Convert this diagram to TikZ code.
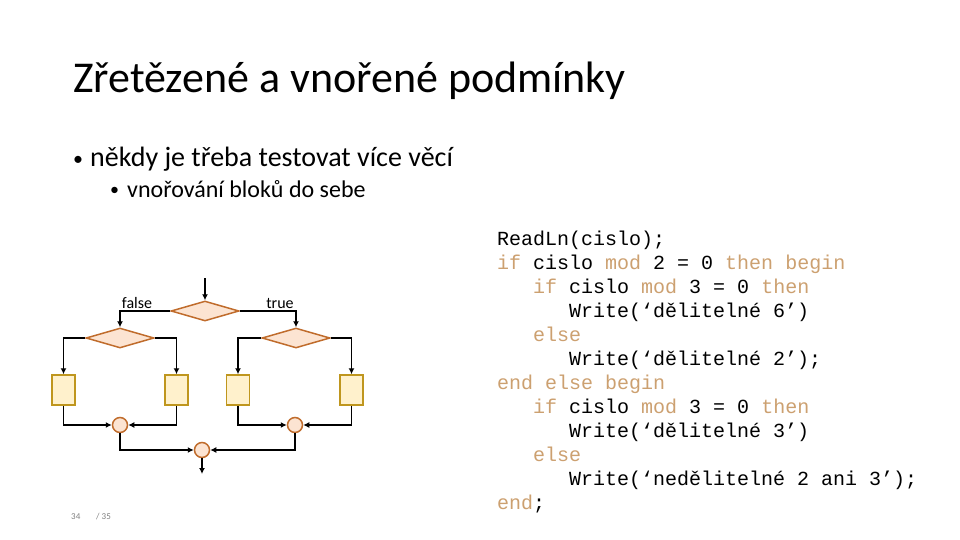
\documentclass[tikz,border=0pt]{standalone}
\usepackage{fontspec}
\setmainfont{Carlito}
\newfontfamily\codefont{Liberation Mono}
\usetikzlibrary{shapes.geometric,arrows.meta}
\definecolor{decline}{RGB}{192,108,44}
\definecolor{decfill}{RGB}{252,228,210}
\definecolor{cmdline}{RGB}{191,150,30}
\definecolor{cmdfill}{RGB}{255,241,204}
\definecolor{kwcol}{RGB}{204,160,112}
\newcommand{\kw}[1]{\textcolor{kwcol}{#1}}
\begin{document}
\begin{tikzpicture}[x=1pt, y=-1pt,
    cond/.style={diamond, draw=decline, fill=decfill, line width=1.5pt,
                 minimum width=68pt, minimum height=20pt, inner sep=0pt},
    cmd/.style={rectangle, draw=cmdline, fill=cmdfill, line width=1.5pt,
                minimum width=23pt, minimum height=30pt, inner sep=0pt},
    merge/.style={circle, draw=decline, fill=decfill, line width=1.5pt,
                 minimum size=15pt, inner sep=0pt},
    arr/.style={-{Latex[length=6pt,width=6pt]}, line width=1.4pt},
    lbl/.style={font=\fontsize{16}{18}\selectfont, anchor=base},
  ]
    \useasboundingbox (0,0) rectangle (960,540);

    % Title and bullets ------------------------------------------------------
    \node[anchor=base west, inner sep=0pt, font=\fontsize{44}{50}\selectfont]
      (title) at (73,93) {Zřetězené a vnořené podmínky};
    \node[anchor=base west, inner sep=0pt, font=\fontsize{20}{24}\selectfont]
      (dot1) at (73,166) {•};
    \node[anchor=base west, inner sep=0pt, font=\fontsize{28}{32}\selectfont]
      (item1) at (90,167) {někdy je třeba testovat více věcí};
    \node[anchor=base west, inner sep=0pt, font=\fontsize{18}{22}\selectfont]
      (dot2) at (110,196) {•};
    \node[anchor=base west, inner sep=0pt, font=\fontsize{24}{28}\selectfont]
      (item2) at (127,197) {vnořování bloků do sebe};

    % Flowchart ---------------------------------------------------------------
    \coordinate (start) at (205,278);
    \node[cond] (top)   at (205,311) {};
    \node[cond] (left)  at (120,338) {};
    \node[cond] (right) at (296,338) {};

    \node[cmd] (c1) at (63.5,390) {};
    \node[cmd] (c2) at (176.5,390) {};
    \node[cmd] (c3) at (238,390) {};
    \node[cmd] (c4) at (351.5,390) {};

    \node[merge] (jl) at (120,425) {};
    \node[merge] (jr) at (295,425) {};
    \node[merge] (jb) at (202,450) {};
    \coordinate (finish) at (202,474);

    \node[lbl] (false) at (137,308) {false};
    \node[lbl] (true)  at (280,308) {true};

    % Arrows -----------------------------------------------------------------
    \draw[arr] (start) -- (top.north);
    \draw[arr] (top.west)  -| (left.north);
    \draw[arr] (top.east)  -| (right.north);
    \draw[arr] (left.west)  -| (c1.north);
    \draw[arr] (left.east)  -| (c2.north);
    \draw[arr] (right.west) -| (c3.north);
    \draw[arr] (right.east) -| (c4.north);
    \draw[arr] (c1.south) |- (jl.west);
    \draw[arr] (c2.south) |- (jl.east);
    \draw[arr] (c3.south) |- (jr.west);
    \draw[arr] (c4.south) |- (jr.east);
    \draw[arr] (jl.south) |- (jb.west);
    \draw[arr] (jr.south) |- (jb.east);
    \draw[arr] (jb.south) -- (finish);

    % Code -------------------------------------------------------------------
    \node[anchor=base west, inner sep=0pt, align=left,
          font=\codefont\fontsize{20}{24}\selectfont] (code) at (497,509) {%
      ReadLn(cislo);\\
      \kw{if} cislo \kw{mod} 2 = 0 \kw{then} \kw{begin}\\
      \ \ \ \kw{if} cislo \kw{mod} 3 = 0 \kw{then}\\
      \ \ \ \ \ \ Write(‘dělitelné 6’)\\
      \ \ \ \kw{else}\\
      \ \ \ \ \ \ Write(‘dělitelné 2’);\\
      \kw{end} \kw{else} \kw{begin}\\
      \ \ \ \kw{if} cislo \kw{mod} 3 = 0 \kw{then}\\
      \ \ \ \ \ \ Write(‘dělitelné 3’)\\
      \ \ \ \kw{else}\\
      \ \ \ \ \ \ Write(‘nedělitelné 2 ani 3’);\\
      \kw{end};};

    % Page number ------------------------------------------------------------
    \node[anchor=base west, inner sep=0pt, text=gray,
          font=\fontsize{9}{11}\selectfont] (page) at (71,519) {34};
    \node[anchor=base west, inner sep=0pt, text=gray,
          font=\fontsize{9}{11}\selectfont] (total) at (96,519) {/ 35};
\end{tikzpicture}
\end{document}
